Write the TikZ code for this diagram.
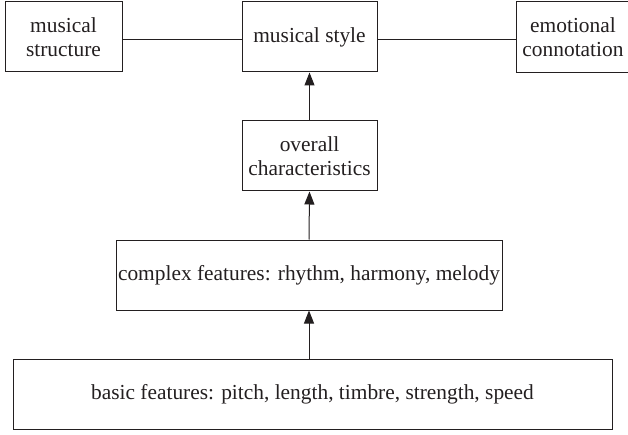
\documentclass[tikz,border=0pt]{standalone}
\usepackage{fontspec}
\setmainfont{Liberation Serif}
\usetikzlibrary{arrows.meta}
\definecolor{ink}{HTML}{231F20}
\begin{document}
\begin{tikzpicture}[x=1pt,y=1pt,
  box/.style={draw=ink,line width=1pt,rectangle,inner sep=0pt,align=center,
    text=ink,font=\fontsize{21.4}{24}\selectfont},
  conn/.style={draw=ink,line width=1pt},
  arr/.style={conn,-{Triangle[width=10pt,length=13pt]}}]
\useasboundingbox (0,0) rectangle (628,434);
\node[box,minimum width=117pt,minimum height=70pt] (struct) at (63.5,397) {musical\\structure};
\node[box,minimum width=135pt,minimum height=70pt] (style) at (309.5,397) {musical style};
\node[box,minimum width=114pt,minimum height=71pt] (emot) at (573,397) {emotional\\connotation};
\node[box,minimum width=135pt,minimum height=70pt] (overall) at (309.5,278) {overall\\characteristics};
\node[box,minimum width=386pt,minimum height=70pt] (complex) at (309,159) {complex features: rhythm, harmony, melody};
\node[box,minimum width=599pt,minimum height=70pt] (basic) at (312.5,40) {basic features: pitch, length, timbre, strength, speed};
\draw[conn] ([yshift=-3pt]struct.east) -- ([yshift=-3pt]style.west);
\draw[conn] ([yshift=-3pt]style.east) -- ([yshift=-3pt]emot.west);
\draw[arr] (overall.north) -- (style.south);
\draw[arr] (complex.north) -- (overall.south);
\draw[arr] (basic.north -| complex.north) -- (complex.south);
\end{tikzpicture}
\end{document}
